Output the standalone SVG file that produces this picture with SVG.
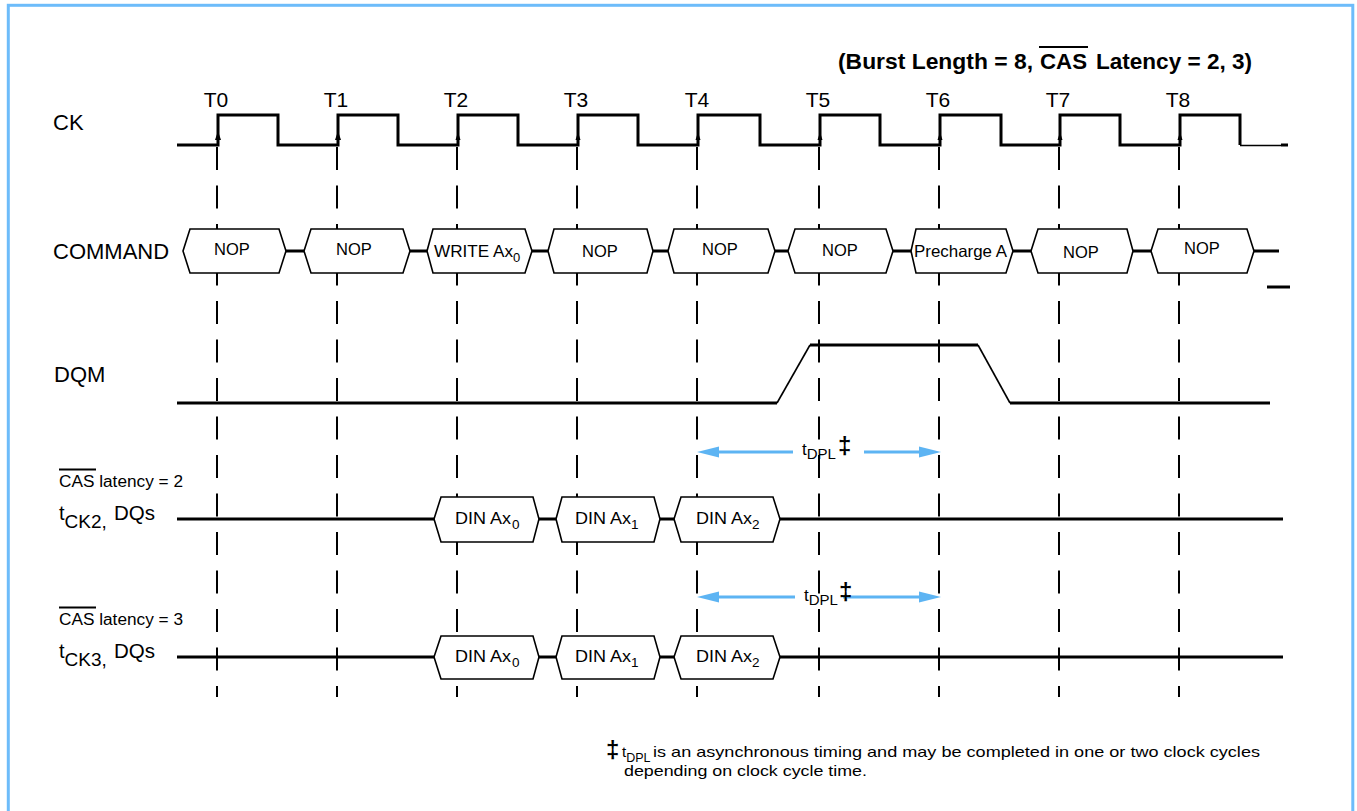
<svg xmlns="http://www.w3.org/2000/svg" width="1357" height="811" viewBox="0 0 1357 811">
<style>
text{font-family:"Liberation Sans",Arial,sans-serif;fill:#000}
.lbl{font-size:22px}
.tl{font-size:21px;text-anchor:middle}
.bx{fill:#fff;stroke:#000;stroke-width:1.6}
.bt{font-size:16.5px}
.sig{fill:none;stroke:#000;stroke-width:3}
.thin{fill:none;stroke:#000;stroke-width:1.6}
.dash{stroke:#000;stroke-width:2;stroke-dasharray:23 15.5}
.arr{stroke:#5db4f3;stroke-width:3}
.ah{fill:#5db4f3}
.ov{stroke:#000;stroke-width:2}
.dd{font-size:24px;font-weight:bold}
</style>
<rect x="0" y="0" width="1357" height="811" fill="#fff"/>
<rect x="8.3" y="5.3" width="1344.5" height="830" fill="none" stroke="#6dbcfa" stroke-width="3"/>

<g id="title">
<text x="838" y="69" font-size="22" font-weight="bold" textLength="195" lengthAdjust="spacingAndGlyphs">(Burst Length = 8,</text>
<text x="1040" y="69" font-size="22" font-weight="bold" textLength="47" lengthAdjust="spacingAndGlyphs">CAS</text>
<line class="ov" x1="1039" y1="47" x2="1088" y2="47"/>
<text x="1096" y="69" font-size="22" font-weight="bold" textLength="156" lengthAdjust="spacingAndGlyphs">Latency = 2, 3)</text>
</g>

<g id="labels">
<text class="lbl" x="53" y="130">CK</text>
<text class="lbl" x="53" y="259">COMMAND</text>
<text class="lbl" x="54" y="382">DQM</text>
<g id="cl2">
<text x="59" y="487" font-size="16" textLength="124" lengthAdjust="spacingAndGlyphs">CAS latency = 2</text>
<line class="ov" x1="59" y1="469.5" x2="96" y2="469.5"/>
<text x="59" y="520" font-size="20">t<tspan dy="8" font-size="19">CK2,</tspan><tspan x="114" y="520" font-size="20.5">DQs</tspan></text>
</g>
<g id="cl3">
<text x="59" y="625" font-size="16" textLength="124" lengthAdjust="spacingAndGlyphs">CAS latency = 3</text>
<line class="ov" x1="59" y1="607.5" x2="96" y2="607.5"/>
<text x="59" y="658" font-size="20">t<tspan dy="8" font-size="19">CK3,</tspan><tspan x="114" y="658" font-size="20.5">DQs</tspan></text>
</g>
</g>

<g id="tlabels">
<text class="tl" x="216" y="107">T0</text>
<text class="tl" x="336" y="107">T1</text>
<text class="tl" x="456" y="107">T2</text>
<text class="tl" x="576" y="107">T3</text>
<text class="tl" x="697" y="107">T4</text>
<text class="tl" x="818" y="107">T5</text>
<text class="tl" x="938" y="107">T6</text>
<text class="tl" x="1058" y="107">T7</text>
<text class="tl" x="1178" y="107">T8</text>
</g>

<g id="connectors">
<g id="gridlines">
<line class="dash" x1="217" y1="147" x2="217" y2="697"/>
<line class="dash" x1="337" y1="147" x2="337" y2="697"/>
<line class="dash" x1="457" y1="147" x2="457" y2="697"/>
<line class="dash" x1="577" y1="147" x2="577" y2="697"/>
<line class="dash" x1="697" y1="147" x2="697" y2="697"/>
<line class="dash" x1="819" y1="147" x2="819" y2="697"/>
<line class="dash" x1="939" y1="147" x2="939" y2="697"/>
<line class="dash" x1="1059" y1="147" x2="1059" y2="697"/>
<line class="dash" x1="1179" y1="147" x2="1179" y2="697"/>
</g>
<g id="clock">
<path class="sig" d="M177,145 H218 V115 H278 V145 H338 V115 H398 V145 H458 V115 H518 V145 H578 V115 H638 V145 H698 V115 H760 V145 H820 V115 H880 V145 H940 V115 H1001 V145 H1060 V115 H1120 V145 H1180 V115 H1240 V145"/>
<line x1="1240" y1="145.5" x2="1281" y2="145.5" stroke="#000" stroke-width="1.5"/>
<line x1="1281" y1="145" x2="1288" y2="145" stroke="#000" stroke-width="3"/>
<g fill="#000">
<polygon points="218,131 215,140 221,140"/>
<polygon points="338,131 335,140 341,140"/>
<polygon points="458,132 455.5,140 460.5,140"/>
<polygon points="578,132 575.5,140 580.5,140"/>
<polygon points="698,132 695.5,140 700.5,140"/>
<polygon points="820,132 817.5,140 822.5,140"/>
<polygon points="940,132 937.5,140 942.5,140"/>
<polygon points="1060,132 1057.5,140 1062.5,140"/>
<polygon points="1180,132 1177.5,140 1182.5,140"/>
</g>
</g>
<g id="cmdline">
<line class="sig" x1="286" y1="251" x2="304" y2="251"/>
<line class="sig" x1="410" y1="251" x2="427" y2="251"/>
<line class="sig" x1="532" y1="251" x2="548" y2="251"/>
<line class="sig" x1="653" y1="251" x2="668" y2="251"/>
<line class="sig" x1="775" y1="251" x2="788" y2="251"/>
<line class="sig" x1="893" y1="251" x2="911" y2="251"/>
<line class="sig" x1="1013" y1="251" x2="1031" y2="251"/>
<line class="sig" x1="1133" y1="251" x2="1151" y2="251"/>
<line class="sig" x1="1254" y1="251" x2="1279" y2="251"/>
<line class="sig" x1="1267" y1="287" x2="1290" y2="287"/>
</g>
<g id="dqm">
<path class="sig" d="M177,403 H777"/>
<path class="thin" d="M777,403 L810,345"/>
<path class="sig" d="M810,345 H978"/>
<path class="thin" d="M978,345 L1010,403"/>
<path class="sig" d="M1010,403 H1270"/>
</g>
<g id="dq2line">
<line class="sig" x1="177" y1="519" x2="434" y2="519"/>
<line class="sig" x1="539" y1="519" x2="556" y2="519"/>
<line class="sig" x1="660" y1="519" x2="674" y2="519"/>
<line class="sig" x1="780" y1="519" x2="1283" y2="519"/>
</g>
<g id="dq3line">
<line class="sig" x1="177" y1="657" x2="434" y2="657"/>
<line class="sig" x1="539" y1="657" x2="556" y2="657"/>
<line class="sig" x1="660" y1="657" x2="674" y2="657"/>
<line class="sig" x1="780" y1="657" x2="1283" y2="657"/>
</g>
<g id="tdpl1">
<line class="arr" x1="716" y1="452" x2="793" y2="452"/>
<polygon class="ah" points="697,452 719,446.5 719,457.5"/>
<line class="arr" x1="864" y1="452" x2="922" y2="452"/>
<polygon class="ah" points="941,452 919,446.5 919,457.5"/>
</g>
<g id="tdpl2">
<line class="arr" x1="716" y1="597" x2="795" y2="597"/>
<polygon class="ah" points="697,597 719,591.5 719,602.5"/>
<line class="arr" x1="843" y1="597" x2="922" y2="597"/>
<polygon class="ah" points="941,597 919,591.5 919,602.5"/>
</g>
</g>

<g id="tdpl1-label">
<text x="802" y="455" font-size="17">t<tspan dy="4" font-size="15">DPL</tspan><tspan class="dd" x="838" y="454">‡</tspan></text>
</g>
<g id="tdpl2-label">
<text x="804" y="601" font-size="17">t<tspan dy="4" font-size="15">DPL</tspan><tspan class="dd" x="839" y="600">‡</tspan></text>
</g>

<g id="cmd1"><polygon class="bx" points="183,251 190,229 279,229 286,251 279,273 190,273"/><text class="bt" x="232" y="255" text-anchor="middle">NOP</text></g>
<g id="cmd2"><polygon class="bx" points="304,251 311,229 403,229 410,251 403,273 311,273"/><text class="bt" x="354" y="255" text-anchor="middle">NOP</text></g>
<g id="cmd3"><polygon class="bx" points="427,251 433,229 525,229 532,251 525,273 433,273"/><text class="bt" x="434" y="257"><tspan textLength="79" lengthAdjust="spacingAndGlyphs">WRITE Ax</tspan><tspan x="513" y="262" font-size="13">0</tspan></text></g>
<g id="cmd4"><polygon class="bx" points="548,251 554,229 647,229 653,251 647,273 554,273"/><text class="bt" x="600" y="257" text-anchor="middle">NOP</text></g>
<g id="cmd5"><polygon class="bx" points="668,251 674,229 768,229 775,251 768,273 674,273"/><text class="bt" x="720" y="255" text-anchor="middle">NOP</text></g>
<g id="cmd6"><polygon class="bx" points="788,251 795,229 886,229 893,251 886,273 795,273"/><text class="bt" x="840" y="256" text-anchor="middle">NOP</text></g>
<g id="cmd7"><polygon class="bx" points="911,251 916,229 1006,229 1013,251 1006,273 916,273"/><text class="bt" x="914" y="257" textLength="93" lengthAdjust="spacingAndGlyphs">Precharge A</text></g>
<g id="cmd8"><polygon class="bx" points="1031,251 1038,229 1127,229 1133,251 1127,273 1038,273"/><text class="bt" x="1081" y="258" text-anchor="middle">NOP</text></g>
<g id="cmd9"><polygon class="bx" points="1151,251 1158,229 1247,229 1254,251 1247,273 1158,273"/><text class="bt" x="1202" y="254" text-anchor="middle">NOP</text></g>

<g id="dq2a"><polygon class="bx" points="434,519 441,497 533,497 539,519 533,542 441,542"/><text class="bt" x="455" y="524"><tspan textLength="56" lengthAdjust="spacingAndGlyphs">DIN Ax</tspan><tspan x="512" y="529" font-size="13.5">0</tspan></text></g>
<g id="dq2b"><polygon class="bx" points="556,519 562,497 654,497 660,519 654,542 562,542"/><text class="bt" x="575" y="524"><tspan textLength="56" lengthAdjust="spacingAndGlyphs">DIN Ax</tspan><tspan x="631" y="529" font-size="13.5">1</tspan></text></g>
<g id="dq2c"><polygon class="bx" points="674,519 681,497 773,497 780,519 773,542 681,542"/><text class="bt" x="696" y="524"><tspan textLength="56" lengthAdjust="spacingAndGlyphs">DIN Ax</tspan><tspan x="752" y="529" font-size="13.5">2</tspan></text></g>

<g id="dq3a"><polygon class="bx" points="434,657 441,636 533,636 539,657 533,679 441,679"/><text class="bt" x="455" y="662"><tspan textLength="56" lengthAdjust="spacingAndGlyphs">DIN Ax</tspan><tspan x="512" y="667" font-size="13.5">0</tspan></text></g>
<g id="dq3b"><polygon class="bx" points="556,657 562,636 654,636 660,657 654,679 562,679"/><text class="bt" x="575" y="662"><tspan textLength="56" lengthAdjust="spacingAndGlyphs">DIN Ax</tspan><tspan x="631" y="667" font-size="13.5">1</tspan></text></g>
<g id="dq3c"><polygon class="bx" points="674,657 681,636 773,636 780,657 773,679 681,679"/><text class="bt" x="696" y="662"><tspan textLength="56" lengthAdjust="spacingAndGlyphs">DIN Ax</tspan><tspan x="752" y="667" font-size="13.5">2</tspan></text></g>

<g id="footnote">
<text x="606" y="758" font-size="15"><tspan class="dd">‡</tspan><tspan x="622" y="757">t</tspan><tspan dy="5" font-size="12.5">DPL</tspan><tspan x="653" y="757" font-size="14.5" textLength="607" lengthAdjust="spacingAndGlyphs">is an asynchronous timing and may be completed in one or two clock cycles</tspan></text>
<text x="624" y="776" font-size="14.5" textLength="243" lengthAdjust="spacingAndGlyphs">depending on clock cycle time.</text>
</g>
</svg>
